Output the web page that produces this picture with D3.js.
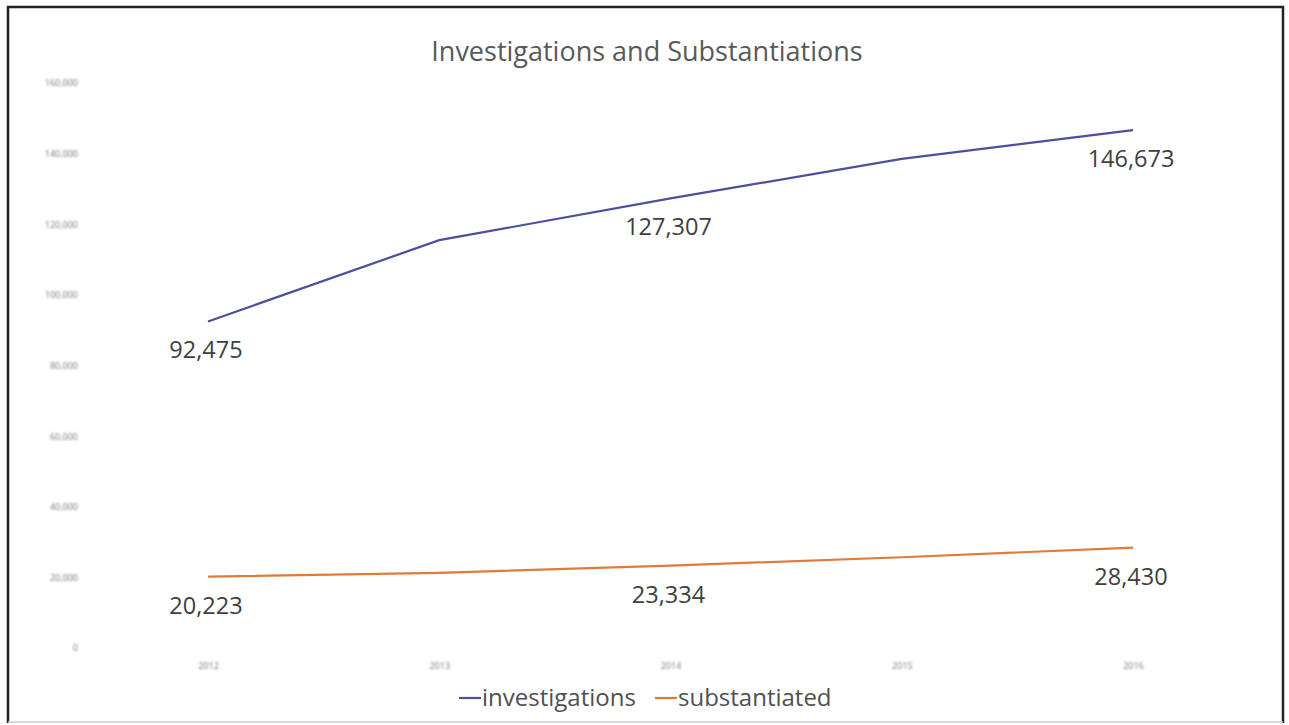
<!DOCTYPE html>
<html lang="en">
<head>
    <meta charset="UTF-8">
    <title>Investigations and Substantiations</title>
    <script src="https://d3js.org/d3.v7.min.js"></script>
    <style>
        body { margin: 0; background: #fff; }
        text { font-family: "Open Sans", "Noto Sans", sans-serif; }
    </style>
</head>
<body>
</body>
<script>
    const WIDTH = 1289, HEIGHT = 725;
    const years = ["2012", "2013", "2014", "2015", "2016"];
    const yTicks = [0, 20000, 40000, 60000, 80000, 100000, 120000, 140000, 160000];
    const investigations = [92475, 115500, 127307, 138500, 146673];
    const substantiated = [20223, 21300, 23334, 25700, 28430];
    const labelIdx = [0, 2, 4];
    const seriesNames = ["investigations", "substantiated"];
    const colors = ["#4c4f9c", "#e07c3a"];

    let svg = d3.select("body").append("svg").attr("width", WIDTH).attr("height", HEIGHT);
    svg.append("rect").attr("width", WIDTH).attr("height", HEIGHT).style("fill", "#fff");

    // soft blur for the washed-out axis text of the scan
    svg.append("defs").append("filter").attr("id", "soft")
        .append("feGaussianBlur").attr("stdDeviation", 0.8);

    // frame
    svg.append("path").attr("d", "M8,723 L8,7 L1283,7 L1283,723")
        .style("fill", "none").style("stroke", "#222").style("stroke-width", 2.5);
    svg.append("line").attr("x1", 8).attr("x2", 1283).attr("y1", 722).attr("y2", 722)
        .style("stroke", "#ccc").style("stroke-width", 1.5);

    let x = d3.scalePoint().domain(years).range([208, 1133]);
    let y = d3.scaleLinear().domain([0, 160000]).range([648, 83]);

    // y axis labels (faint)
    let yAxis = svg.append("g").attr("transform", "translate(80,0)")
        .call(d3.axisLeft(y).tickValues(yTicks).tickSize(0).tickFormat(d => d === 0 ? "0" : d3.format(",")(d)));
    yAxis.select(".domain").remove();
    yAxis.selectAll("text").attr("x", -2).style("font-size", "9px").style("fill", "#777")
        .attr("filter", "url(#soft)");

    // x axis labels (faint)
    let xAxis = svg.append("g").attr("transform", "translate(0,660)")
        .call(d3.axisBottom(x).tickSize(0));
    xAxis.select(".domain").remove();
    xAxis.selectAll("text").style("font-size", "9px").style("fill", "#777")
        .attr("filter", "url(#soft)");

    svg.append("text").text("Investigations and Substantiations")
        .attr("x", 647).attr("y", 61).attr("text-anchor", "middle")
        .style("font-size", "27px").style("fill", "#595959");

    let line = d3.line().x((d, i) => x(years[i])).y(d => y(d));
    [investigations, substantiated].forEach((s, si) => {
        svg.append("path").datum(s).attr("d", line)
            .style("fill", "none").style("stroke", colors[si]).style("stroke-width", 2.2);
        svg.selectAll(null).data(labelIdx).enter().append("text")
            .text(i => d3.format(",")(s[i]))
            .attr("x", i => x(years[i]) - 2)
            .attr("y", i => y(s[i]) + 37)
            .attr("text-anchor", "middle")
            .style("font-size", "23.5px").style("fill", "#404040");
    });

    // legend
    let legend = svg.append("g");
    let lx = [459, 655];
    seriesNames.forEach((n, i) => {
        legend.append("line").attr("x1", lx[i]).attr("x2", lx[i] + 22).attr("y1", 698).attr("y2", 698)
            .style("stroke", colors[i]).style("stroke-width", 2.2);
        legend.append("text").text(n).attr("x", lx[i] + 23).attr("y", 706)
            .style("font-size", "24px").style("fill", "#505050");
    });
</script>
</html>
